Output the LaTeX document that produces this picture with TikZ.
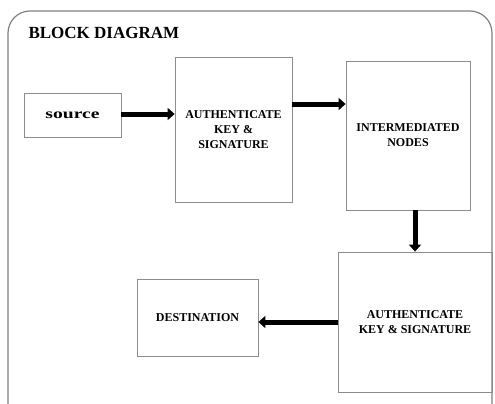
\documentclass[tikz,border=0pt]{standalone}
\usepackage{fontspec}
\setmainfont{Liberation Serif}
\usetikzlibrary{arrows.meta}
\begin{document}
\begin{tikzpicture}[x=1pt,y=-1pt,
  blk/.style={draw=black!45, line width=0.8pt, inner sep=0pt, align=center,
    font=\bfseries\fontsize{12}{15}\selectfont},
  flow/.style={line width=5pt, -{Triangle[length=7pt,width=12pt]}},
]
\useasboundingbox (0,0) rectangle (495,404);
% outer frame, running past the lower edge
\begin{scope}
\clip (0,0) rectangle (495,404);
\draw[black!50, line width=1.2pt, rounded corners=22pt] (8,11) rectangle (492,440);
\end{scope}
\node[anchor=west, font=\bfseries\fontsize{17}{19}\selectfont] (title) at (25,33) {BLOCK DIAGRAM};

\node[blk, minimum width=97pt, minimum height=44pt, font=\bfseries\fontsize{14}{16}\selectfont] (src) at (72.5,115) {\scalebox{1.4}[1]{source}};
\node[blk, minimum width=117pt, minimum height=145pt] (auth1) at (233.5,129.5) {AUTHENTICATE\\KEY \&\\SIGNATURE};
\node[blk, minimum width=124pt, minimum height=149pt] (inter) at (408,135.5) {INTERMEDIATED\\NODES};
\node[blk, minimum width=154pt, minimum height=140pt] (auth2) at (415,322) {AUTHENTICATE\\KEY \& SIGNATURE};
\node[blk, minimum width=121pt, minimum height=77pt] (dest) at (197.5,317.5) {DESTINATION};

\draw[flow] (src.east |- 0,114) -- (auth1.west |- 0,114);
\draw[flow] (auth1.east |- 0,104) -- (inter.west |- 0,104);
\draw[flow] (inter.south -| 415,0) -- (auth2.north -| 415,0);
\draw[flow] (auth2.west |- 0,322) -- (dest.east |- 0,322);
\end{tikzpicture}
\end{document}
